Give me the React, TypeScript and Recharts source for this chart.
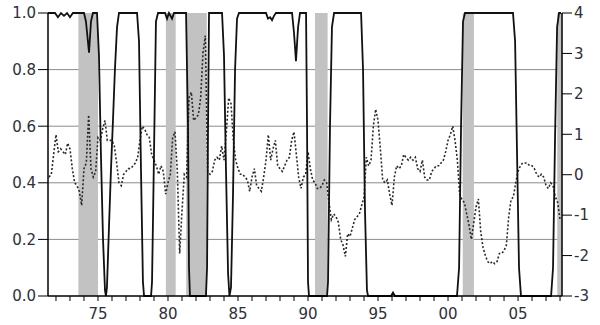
import {
  LineChart,
  Line,
  XAxis,
  YAxis,
  CartesianGrid,
  ReferenceArea,
} from 'recharts';

// recession shading (years)
const recStart = [1973.6, 1979.85, 1981.3, 1990.5, 2001.05, 2007.8];
const recEnd = [1975.0, 1980.55, 1982.77, 1991.4, 2001.85, 2008.14];

// solid line: regime probability, left axis [year, prob]
const probPoints: [number, number][] = [
  [1971.43, 1], [1971.93, 1], [1972.14, 0.985], [1972.36, 1], [1972.57, 0.99], [1972.79, 1],
  [1973.0, 0.985], [1973.21, 1], [1974.0, 1], [1974.14, 0.97], [1974.36, 0.86], [1974.5, 0.97],
  [1974.64, 1], [1974.93, 1], [1975.07, 0.85], [1975.21, 0.5], [1975.36, 0.2], [1975.5, 0.02],
  [1975.57, 0], [1975.64, 0.03], [1975.79, 0.25], [1975.93, 0.45], [1976.07, 0.62], [1976.21, 0.8],
  [1976.36, 0.95], [1976.5, 1], [1977.79, 1], [1977.93, 0.9], [1978.07, 0.45], [1978.21, 0.05],
  [1978.29, 0], [1978.79, 0], [1978.86, 0.05], [1979.0, 0.5], [1979.14, 0.97], [1979.29, 1],
  [1979.79, 1], [1979.93, 0.98], [1980.07, 1], [1980.29, 0.98], [1980.43, 1], [1981.29, 1],
  [1981.43, 0.6], [1981.5, 0.1], [1981.57, 0], [1982.71, 0], [1982.79, 0.1], [1982.86, 0.6],
  [1982.93, 1], [1983.86, 1], [1984.0, 0.85], [1984.14, 0.45], [1984.29, 0.08], [1984.39, 0],
  [1984.5, 0.03], [1984.64, 0.35], [1984.79, 0.8], [1984.93, 0.98], [1985.07, 1], [1987.0, 1],
  [1987.14, 0.98], [1987.29, 0.985], [1987.43, 0.975], [1987.57, 0.99], [1987.71, 1], [1988.86, 1],
  [1989.0, 0.93], [1989.14, 0.83], [1989.29, 0.95], [1989.43, 1], [1989.86, 1], [1989.93, 0.6],
  [1990.0, 0.05], [1990.07, 0], [1991.36, 0], [1991.43, 0.05], [1991.57, 0.6], [1991.71, 0.95],
  [1991.86, 1], [1993.79, 1], [1993.93, 0.8], [1994.07, 0.3], [1994.21, 0.02], [1994.29, 0],
  [1995.93, 0], [1996.07, 0.012], [1996.21, 0], [2000.64, 0], [2000.79, 0.1], [2000.93, 0.6],
  [2001.07, 0.97], [2001.21, 1], [2004.64, 1], [2004.79, 0.9], [2004.93, 0.5], [2005.07, 0.1],
  [2005.21, 0], [2007.36, 0], [2007.5, 0.1], [2007.64, 0.55], [2007.79, 0.95], [2007.93, 1],
  [2008.07, 1],
];

// dashed line: index on right axis, bi-monthly from 1971.5
const dashStart = 1971.5;
const dashStep = 1 / 6;
const dashValues = [
  -0.06, 0.01, 0.5, 0.99, 0.57, 0.64, 0.57, 0.5, 0.78, 0.64, 0.15, -0.2,
  -0.27, -0.41, -0.76, 0.15, 0.29, 1.48, 0.15, -0.06, 0.08, 0.92, 0.85, 1.13,
  1.34, 0.85, 0.85, 0.85, 0.71, 0.29, -0.2, -0.27, 0.01, 0.08, 0.15, 0.15,
  0.22, 0.29, 0.43, 0.85, 1.2, 1.13, 0.99, 0.92, 0.5, 0.36, 0.22, 0.01,
  0.22, 0.08, -0.48, -0.2, 0.01, 0.92, 1.06, 0.08, -1.95, -0.9, 0.01, -0.06,
  1.9, 2.04, 1.34, 1.41, 1.48, 1.9, 3.02, 3.44, 0.08, 0.01, 0.08, 0.36,
  0.43, 0.36, 0.71, 0.36, 1.06, 1.9, 1.76, 0.85, 0.36, 0.15, 0.01, 0.01,
  -0.06, -0.13, -0.41, -0.06, 0.15, -0.27, -0.34, -0.41, -0.06, 0.36, 0.99, 0.36,
  0.64, 0.85, 0.22, 0.15, 0.08, 0.22, 0.36, 0.43, 0.85, 1.06, 0.5, -0.06,
  -0.34, -0.06, 0.01, 0.57, 0.15, -0.13, -0.2, -0.34, -0.34, -0.27, -0.13, -0.2,
  -0.69, -1.11, -0.97, -1.04, -1.18, -1.6, -1.74, -2.02, -1.46, -1.53, -1.32, -1.11,
  -1.04, -0.97, -0.76, -0.55, 0.43, 0.22, 0.36, 1.2, 1.62, 1.34, 0.64, -0.13,
  -0.2, -0.13, -0.48, -0.76, -0.06, 0.22, 0.15, 0.22, 0.5, 0.43, 0.36, 0.43,
  0.36, 0.43, 0.15, 0.08, 0.36, -0.06, -0.13, -0.13, 0.08, 0.15, 0.22, 0.22,
  0.29, 0.36, 0.57, 0.85, 0.99, 1.2, 0.85, 0.36, -0.48, -0.62, -0.69, -0.97,
  -1.25, -1.6, -1.2, -0.8, -0.6, -1.4, -1.8, -2.0, -2.15, -2.2, -2.15, -2.2,
  -2.15, -1.95, -1.95, -1.88, -1.74, -1.04, -0.62, -0.55, -0.2, 0.08, 0.22, 0.29,
  0.29, 0.29, 0.22, 0.22, 0.15, 0.01, -0.06, 0.01, -0.06, -0.27, -0.34, -0.2,
  -0.27, -0.55, -0.69, -1.11,
];

const yearTicks = [
  1972, 1973, 1974, 1975, 1976, 1977, 1978, 1979, 1980, 1981, 1982, 1983, 1984,
  1985, 1986, 1987, 1988, 1989, 1990, 1991, 1992, 1993, 1994, 1995, 1996, 1997,
  1998, 1999, 2000, 2001, 2002, 2003, 2004, 2005, 2006, 2007, 2008,
];
const yearLabels: Record<number, string> = {
  1975: '75', 1980: '80', 1985: '85', 1990: '90', 1995: '95', 2000: '00', 2005: '05',
};
const leftTicks = [0, 0.2, 0.4, 0.6, 0.8, 1.0];
const rightTicks = [-3, -2, -1, 0, 1, 2, 3, 4];
const gridLevels = [0.2, 0.4, 0.6, 0.8];

const probData = probPoints.map(([t, p]) => ({ t, p }));
const dashData = dashValues.map((v, i) => ({ t: dashStart + i * dashStep, v }));

const tickStyle = { fill: '#2f2f3a', fontSize: 15, fontFamily: 'DejaVu Sans, sans-serif' };

export default function App() {
  return (
    <div style={{ width: 600, height: 325, background: '#fff' }}>
      <style>{'body{margin:0}'}</style>
      <LineChart width={600} height={325} margin={{ top: 13, right: 0, bottom: 0, left: 0 }}>
        <CartesianGrid
          yAxisId="left"
          vertical={false}
          horizontalValues={gridLevels}
          stroke="#8c8c8c"
          strokeWidth={1}
        />
        {recStart.map((s, i) => (
          <ReferenceArea
            key={i}
            yAxisId="left"
            x1={s}
            x2={recEnd[i]}
            y1={0}
            y2={1}
            fill="#c2c2c2"
            fillOpacity={1}
            stroke="none"
            ifOverflow="hidden"
          />
        ))}
        <XAxis
          dataKey="t"
          type="number"
          domain={[1971.43, 2008.14]}
          allowDataOverflow
          ticks={yearTicks}
          interval={0}
          tickFormatter={(t: number) => yearLabels[t] ?? ''}
          height={29}
          tickSize={5}
          tickMargin={7}
          tick={tickStyle}
          axisLine={{ stroke: '#000', strokeWidth: 1.5 }}
          tickLine={{ stroke: '#000' }}
        />
        <YAxis
          yAxisId="left"
          domain={[0, 1]}
          ticks={leftTicks}
          interval={0}
          tickFormatter={(v: number) => v.toFixed(1)}
          width={48}
          tickSize={10}
          tickMargin={2}
          tick={tickStyle}
          axisLine={{ stroke: '#000', strokeWidth: 1.5 }}
          tickLine={{ stroke: '#000' }}
        />
        <YAxis
          yAxisId="right"
          orientation="right"
          domain={[-3, 4]}
          ticks={rightTicks}
          interval={0}
          width={38}
          tickSize={10}
          tickMargin={2}
          tick={tickStyle}
          axisLine={{ stroke: '#000', strokeWidth: 1.5 }}
          tickLine={{ stroke: '#000' }}
        />
        <Line
          yAxisId="right"
          data={dashData}
          dataKey="v"
          type="linear"
          stroke="#2a2a2a"
          strokeWidth={1.6}
          strokeDasharray="2 2"
          dot={false}
          isAnimationActive={false}
        />
        <Line
          yAxisId="left"
          data={probData}
          dataKey="p"
          type="linear"
          stroke="#111"
          strokeWidth={1.8}
          dot={false}
          isAnimationActive={false}
        />
      </LineChart>
    </div>
  );
}
